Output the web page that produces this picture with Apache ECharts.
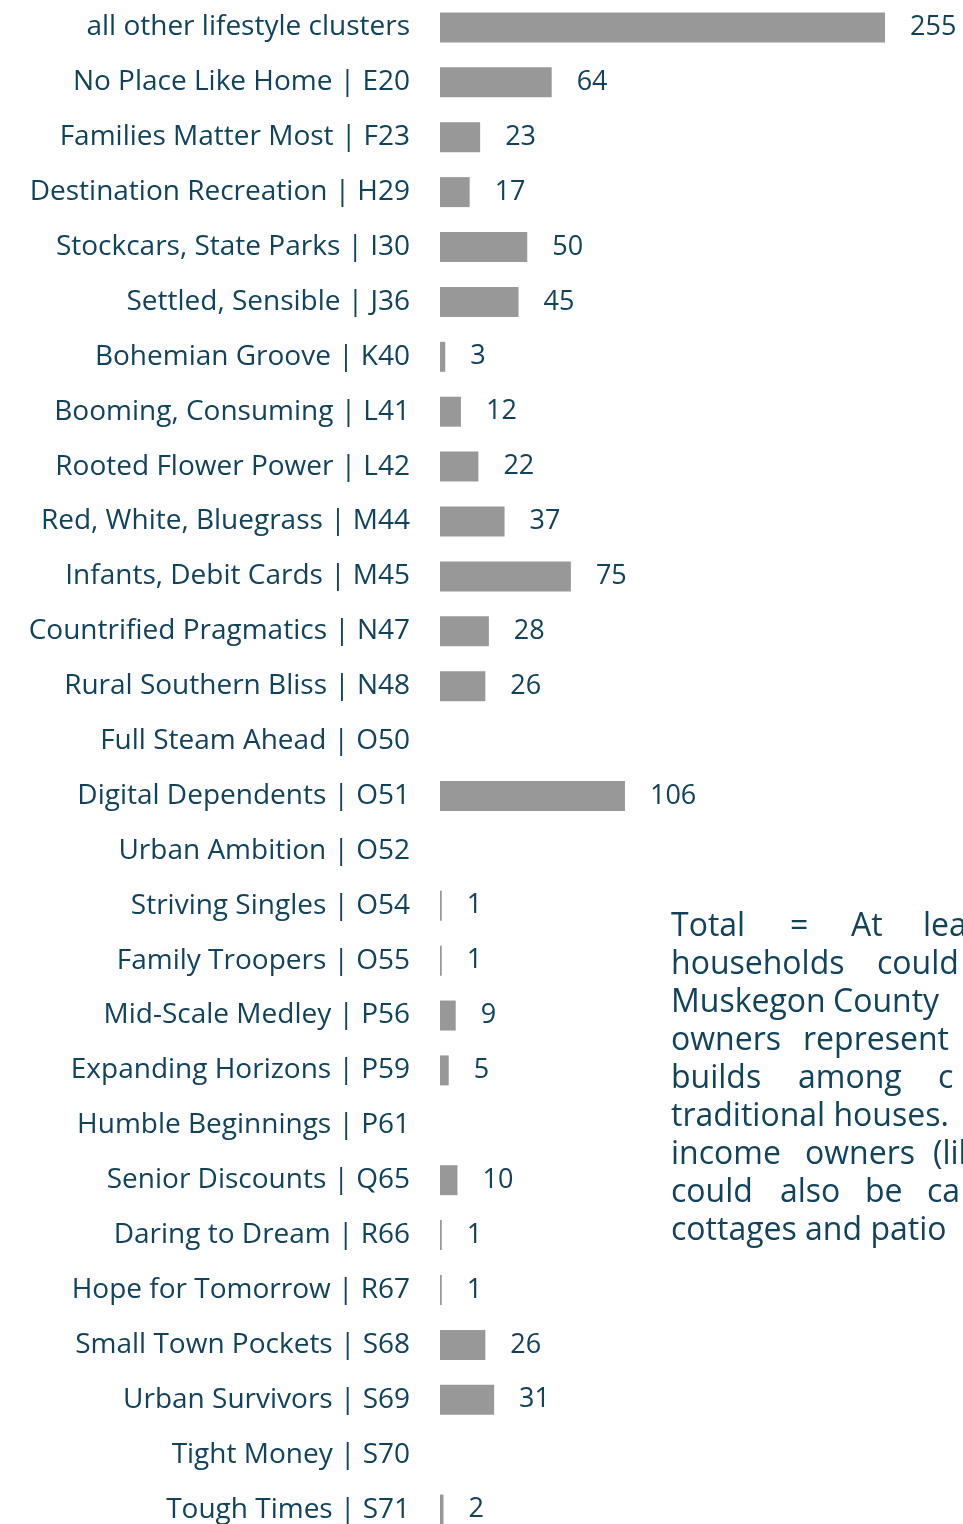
<!DOCTYPE html>
<html>
<head>
<meta charset="utf-8">
<script src="https://cdn.jsdelivr.net/npm/echarts@6/dist/echarts.min.js"></script>
<style>
  html, body { margin: 0; padding: 0; background: #fff; }
  #chart { width: 963px; height: 1524px; }
</style>
</head>
<body>
<div id="chart"></div>
<script>
const clusters = [
  'all other lifestyle clusters',
  'No Place Like Home | E20',
  'Families Matter Most | F23',
  'Destination Recreation | H29',
  'Stockcars, State Parks | I30',
  'Settled, Sensible | J36',
  'Bohemian Groove | K40',
  'Booming, Consuming | L41',
  'Rooted Flower Power | L42',
  'Red, White, Bluegrass | M44',
  'Infants, Debit Cards | M45',
  'Countrified Pragmatics | N47',
  'Rural Southern Bliss | N48',
  'Full Steam Ahead | O50',
  'Digital Dependents | O51',
  'Urban Ambition | O52',
  'Striving Singles | O54',
  'Family Troopers | O55',
  'Mid-Scale Medley | P56',
  'Expanding Horizons | P59',
  'Humble Beginnings | P61',
  'Senior Discounts | Q65',
  'Daring to Dream | R66',
  'Hope for Tomorrow | R67',
  'Small Town Pockets | S68',
  'Urban Survivors | S69',
  'Tight Money | S70',
  'Tough Times | S71'
]
// '-' = no households in that cluster (no bar, no label)
const households = [255, 64, 23, 17, 50, 45, 3, 12, 22, 37, 75, 28, 26, '-', 106, '-', 1, 1, 9, 5, '-', 10, 1, 1, 26, 31, '-', 2]

// note beside the chart, one entry per line (words spread to justify)
const noteLines = [
  ['Total', '=', 'At', 'least'],
  ['households', 'could'],
  ['Muskegon', 'County'],
  ['owners', 'represent'],
  ['builds', 'among', 'c'],
  ['traditional houses.'],
  ['income', 'owners', '(like'],
  ['could', 'also', 'be', 'ca'],
  ['cottages and patio']
]
const noteWordX = [
  [671, 790, 851, 923],
  [671, 877],
  [671, 833],
  [671, 803],
  [671, 798, 938],
  [671],
  [671, 805, 933],
  [671, 780, 865, 927],
  [671]
]

const textColor = '#12435c'
const fontFamily = "'Open Sans', sans-serif"

const chart = echarts.init(document.getElementById('chart'))

const noteGraphics = []
noteLines.forEach((words, i) => {
  words.forEach((w, j) => {
    noteGraphics.push({
      type: 'text',
      x: noteWordX[i][j],
      y: 927 + i * 38,
      style: {
        text: w,
        fill: textColor,
        font: '32px ' + fontFamily,
        verticalAlign: 'middle'
      }
    })
  })
})

chart.setOption({
  animation: false,
  backgroundColor: '#fff',
  // the plot runs past the bottom edge, last row is cut off
  grid: { left: 440, width: 445, top: 0, height: 1537, outerBoundsMode: 'none', containLabel: false },
  xAxis: {
    type: 'value',
    min: 0,
    max: 255,
    show: false
  },
  yAxis: {
    type: 'category',
    inverse: true,
    data: clusters,
    axisLine: { show: false },
    axisTick: { show: false },
    axisLabel: {
      color: textColor,
      fontFamily: fontFamily,
      fontSize: 28,
      margin: 30
    }
  },
  series: [{
    type: 'bar',
    data: households,
    barWidth: 30,
    itemStyle: { color: '#989898' },
    label: {
      show: true,
      position: 'right',
      distance: 25,
      color: textColor,
      fontFamily: fontFamily,
      fontSize: 27
    }
  }],
  graphic: noteGraphics
})
</script>
</body>
</html>
